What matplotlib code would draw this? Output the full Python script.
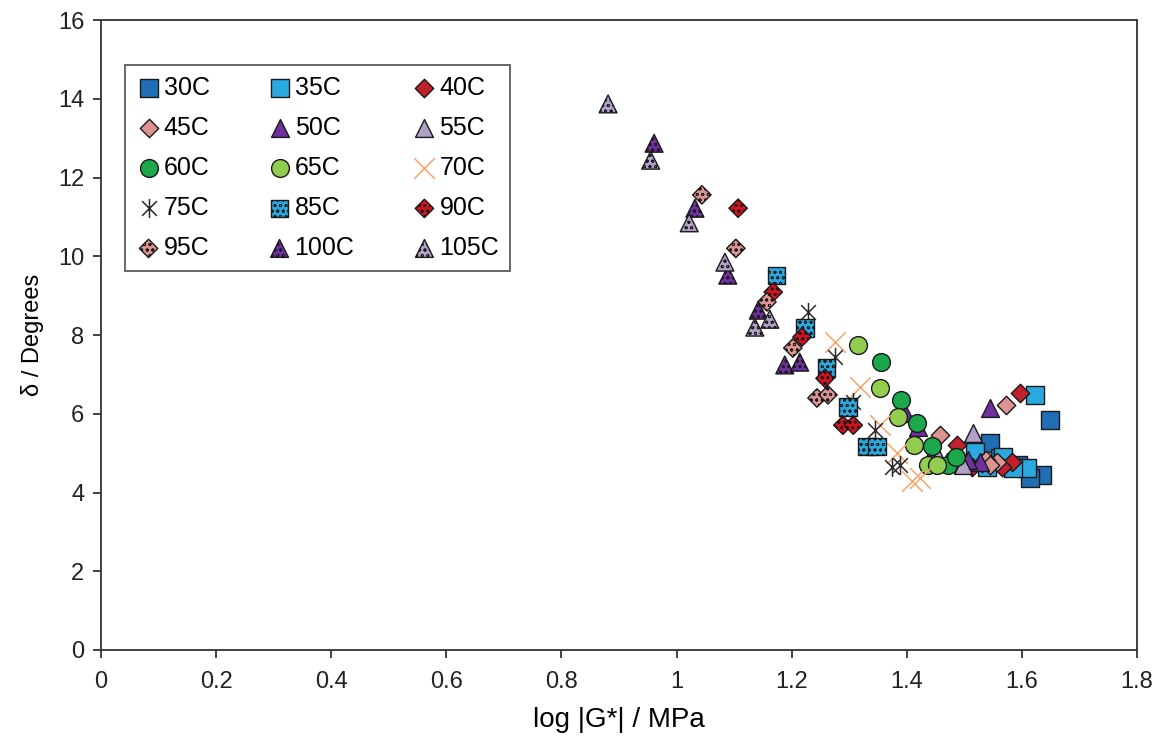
import matplotlib
matplotlib.use("Agg")
import matplotlib.pyplot as plt
from matplotlib.path import Path

plt.rcParams['font.family'] = ['Liberation Sans', 'DejaVu Sans']
plt.rcParams['hatch.linewidth'] = 0.6

labels = ["30C", "35C", "40C", "45C", "50C", "55C", "60C", "65C", "70C",
          "75C", "85C", "90C", "95C", "100C", "105C"]

x30 = [1.649, 1.545, 1.635, 1.614, 1.593, 1.562]
y30 = [5.84, 5.26, 4.44, 4.37, 4.70, 4.87]
x35 = [1.623, 1.609, 1.584, 1.567, 1.519, 1.539]
y35 = [6.48, 4.62, 4.62, 4.90, 5.03, 4.65]
x40 = [1.597, 1.487, 1.583, 1.565, 1.513, 1.530]
y40 = [6.52, 5.21, 4.78, 4.65, 4.65, 4.75]
x45 = [1.572, 1.458, 1.557, 1.538, 1.503, 1.545]
y45 = [6.22, 5.46, 4.78, 4.83, 4.75, 4.70]
x50 = [1.544, 1.527, 1.506, 1.419, 1.397, 1.446]
y50 = [6.15, 4.78, 4.83, 5.66, 6.02, 5.03]
x55 = [1.515, 1.498, 1.470, 1.455]
y55 = [5.51, 4.70, 4.78, 4.90]
x60 = [1.355, 1.390, 1.418, 1.444, 1.471, 1.485]
y60 = [7.31, 6.35, 5.76, 5.18, 4.70, 4.90]
x65 = [1.315, 1.353, 1.385, 1.412, 1.437, 1.452]
y65 = [7.75, 6.65, 5.92, 5.20, 4.70, 4.70]
x70 = [1.275, 1.319, 1.353, 1.383, 1.409, 1.423]
y70 = [7.82, 6.68, 5.71, 5.00, 4.29, 4.37]
x75 = [1.228, 1.275, 1.306, 1.345, 1.374, 1.388]
y75 = [8.58, 7.44, 6.30, 5.59, 4.65, 4.70]
x85 = [1.174, 1.223, 1.261, 1.298, 1.331, 1.348]
y85 = [9.52, 8.18, 7.16, 6.17, 5.16, 5.16]
x90 = [1.107, 1.168, 1.218, 1.258, 1.289, 1.307]
y90 = [11.22, 9.09, 7.95, 6.90, 5.71, 5.71]
x95 = [1.044, 1.103, 1.157, 1.202, 1.244, 1.263]
y95 = [11.56, 10.20, 8.84, 7.67, 6.40, 6.48]
x100 = [0.961, 1.032, 1.089, 1.142, 1.188, 1.214]
y100 = [12.87, 11.22, 9.52, 8.63, 7.24, 7.31]
x105 = [0.881, 0.955, 1.022, 1.084, 1.136, 1.162]
y105 = [13.87, 12.44, 10.85, 9.85, 8.20, 8.40]

xticks = [0, 0.2, 0.4, 0.6, 0.8, 1.0, 1.2, 1.4, 1.6, 1.8]
xticklabels = ["0", "0.2", "0.4", "0.6", "0.8", "1", "1.2", "1.4", "1.6", "1.8"]
yticks = [0, 2, 4, 6, 8, 10, 12, 14, 16]

xs = [x30, x35, x40, x45, x50, x55, x60, x65, x70, x75, x85, x90, x95, x100, x105]
ys = [y30, y35, y40, y45, y50, y55, y60, y65, y70, y75, y85, y90, y95, y100, y105]

star = Path([(-1, -1), (1, 1), (-1, 1), (1, -1), (0, -1.3), (0, 1.3)],
            [Path.MOVETO, Path.LINETO, Path.MOVETO, Path.LINETO, Path.MOVETO, Path.LINETO])

styles = [
    dict(marker='s', c='#1f6db5', s=155, hatch=None),
    dict(marker='s', c='#2aa9e0', s=155, hatch=None),
    dict(marker='D', c='#c1212b', s=88, hatch=None),
    dict(marker='D', c='#dc9391', s=88, hatch=None),
    dict(marker='^', c='#7030a0', s=165, hatch=None),
    dict(marker='^', c='#b1a0c8', s=165, hatch=None),
    dict(marker='o', c='#1aa84a', s=165, hatch=None),
    dict(marker='o', c='#92cd50', s=165, hatch=None),
    dict(marker='x', c='#f7a56a', s=220, hatch=None),
    dict(marker=star, c='#2a2a2a', s=190, hatch=None),
    dict(marker='s', c='#2aa9e0', s=155, hatch='ooo'),
    dict(marker='D', c='#d5121e', s=88, hatch='ooo'),
    dict(marker='D', c='#dc9391', s=88, hatch='ooo'),
    dict(marker='^', c='#7030a0', s=165, hatch='ooo'),
    dict(marker='^', c='#b1a0c8', s=165, hatch='ooo'),
]

fig = plt.figure(figsize=(11.62, 7.42), dpi=100)
ax = fig.add_axes([0.0869, 0.124, 0.8916, 0.849])

handles = []
for lab, xv, yv, st in zip(labels, xs, ys, styles):
    if st['marker'] == 'x' or st['marker'] is star:
        h = ax.scatter(xv, yv, marker=st['marker'], s=st['s'], c=st['c'],
                       linewidths=1.1, label=lab, zorder=3)
    else:
        h = ax.scatter(xv, yv, marker=st['marker'], s=st['s'], facecolors=st['c'],
                       edgecolors='#1a1a1a', linewidths=1.0, hatch=st['hatch'],
                       label=lab, zorder=3)
    handles.append(h)

ax.set_xlim(0, 1.8)
ax.set_ylim(0, 16)
ax.set_xticks(xticks)
ax.set_xticklabels(xticklabels, fontsize=17)
ax.set_yticks(yticks)
ax.tick_params(direction='out', length=6, width=1.2, colors='#222222')
ax.tick_params(axis='y', labelsize=17, pad=6)
ax.tick_params(axis='x', pad=9)
for sp in ax.spines.values():
    sp.set_color('#333333')
    sp.set_linewidth(1.3)

ax.set_xlabel("log |G*| / MPa", fontsize=20, labelpad=10)
ax.set_ylabel("δ / Degrees", fontsize=17, labelpad=10)

# legend filled row-wise: reorder for column-major layout
order = [0, 3, 6, 9, 12, 1, 4, 7, 10, 13, 2, 5, 8, 11, 14]
leg = ax.legend([handles[i] for i in order], [labels[i] for i in order],
                ncol=3, loc='upper left', bbox_to_anchor=(0.023, 0.929),
                borderaxespad=0.0,
                fontsize=18, frameon=True, fancybox=False, edgecolor='#222222',
                handletextpad=0.1, columnspacing=2.3, labelspacing=0.64,
                borderpad=0.45, handlelength=1.0, scatterpoints=1)
leg.get_frame().set_linewidth(1.2)

fig.savefig("out.png", dpi=100)
